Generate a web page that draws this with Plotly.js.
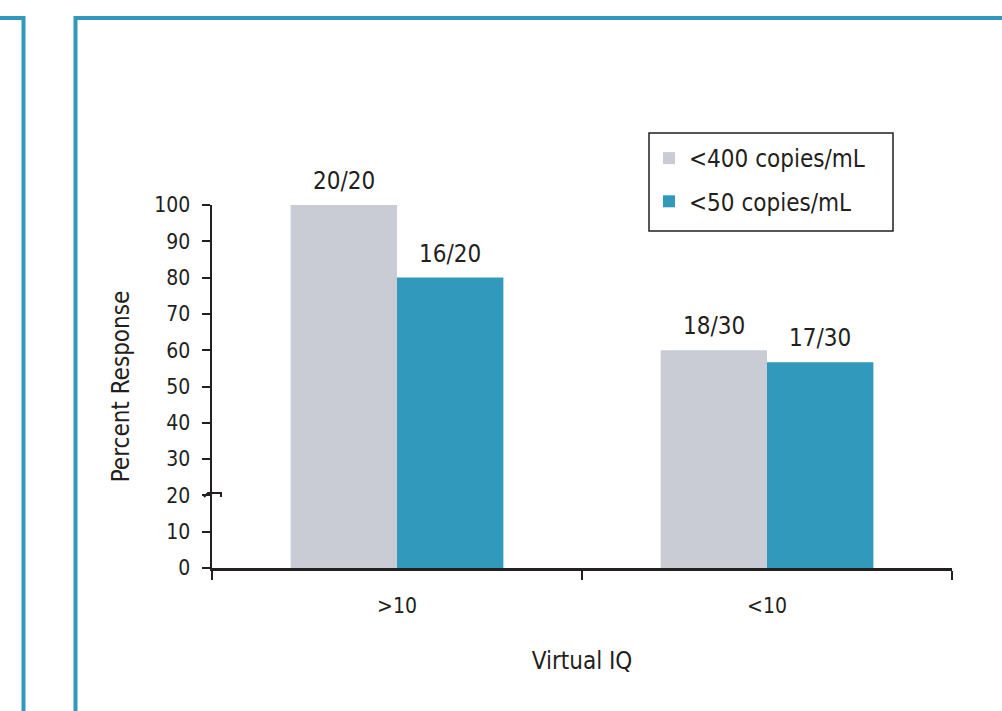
<!DOCTYPE html>
<html>
<head>
<meta charset="utf-8">
<script src="https://cdn.plot.ly/plotly-3.0.1.min.js"></script>
<style>html,body{margin:0;padding:0;background:#fff;}#chart{width:1002px;height:711px;}</style>
</head>
<body>
<div id="chart"></div>
<script>
// ---- data ----
const categories = ['>10', '<10'];
const seriesNames = ['<400 copies/mL', '<50 copies/mL'];
const below400 = [100, 60];
const below50 = [80, 56.7];
const below400Labels = ['20/20', '18/30'];
const below50Labels = ['16/20', '17/30'];
const yTickVals = [0, 10, 20, 30, 40, 50, 60, 70, 80, 90, 100];

// ---- layout constants (pixels) ----
const W = 1002, H = 711;
const L = 212, R = 50, T = 205, B = 143;
const PW = W - L - R, PH = H - T - B;
const px = v => (v - L) / PW;          // pixel x -> paper x
const py = v => (H - B - v) / PH;      // pixel y -> paper y

const FONT = '"DejaVu Sans Condensed", "Liberation Sans", sans-serif';
const INK = '#231f20';
const GRAY = '#c9ccd4';
const TEAL = '#3199bc';
const BARGAP = 0.425;

const traces = [
  {
    type: 'bar', name: seriesNames[0], x: categories, y: below400, legendgroup: 'a',
    marker: {color: GRAY}, hoverinfo: 'skip'
  },
  {
    type: 'bar', name: seriesNames[1], x: categories, y: below50, legendgroup: 'b',
    marker: {color: TEAL}, hoverinfo: 'skip'
  }
];

// value labels above each bar
const half = (1 - BARGAP) / 4;   // offset of each bar centre from category centre
const annotations = [];
categories.forEach((c, i) => {
  annotations.push({x: i - half, y: below400[i], text: below400Labels[i]});
  annotations.push({x: i + half, y: below50[i], text: below50Labels[i]});
});
annotations.forEach(a => Object.assign(a, {
  xref: 'x', yref: 'y', showarrow: false, yanchor: 'bottom', yshift: 8,
  font: {family: FONT, size: 24, color: INK}
}));

function path(points) {
  return points.map((p, i) => (i ? 'L' : 'M') + px(p[0]).toFixed(5) + ',' + py(p[1]).toFixed(5)).join(' ');
}

const shapes = [
  // teal frame lines
  {type: 'path', xref: 'paper', yref: 'paper', path: path([[0, 18], [23.5, 18], [23.5, 720]]),
   line: {color: TEAL, width: 4}},
  {type: 'path', xref: 'paper', yref: 'paper', path: path([[75.5, 720], [75.5, 18], [1010, 18]]),
   line: {color: TEAL, width: 4}},
  // axis break marker near 20
  {type: 'path', xref: 'paper', yref: 'paper', path: path([[204, 497], [208, 493], [221, 493], [221, 497]]),
   line: {color: INK, width: 2}},
  // legend frame
  {type: 'rect', xref: 'paper', yref: 'paper', x0: px(649), x1: px(893), y0: py(133), y1: py(231),
   line: {color: INK, width: 1.5}, fillcolor: 'rgba(0,0,0,0)', layer: 'above'}
];

const layout = {
  width: W, height: H,
  margin: {l: L, r: R, t: T, b: B, pad: 0},
  paper_bgcolor: '#fff', plot_bgcolor: '#fff',
  font: {family: FONT, color: INK},
  barmode: 'group', bargap: BARGAP, bargroupgap: 0,
  showlegend: true,
  legend: {
    x: px(649), y: py(136), xanchor: 'left', yanchor: 'top',
    borderwidth: 0, bgcolor: 'rgba(0,0,0,0)',
    font: {family: FONT, size: 24, color: INK},
    traceorder: 'grouped', tracegroupgap: 9, itemclick: false
  },
  xaxis: {
    type: 'category', tickson: 'boundaries', ticks: 'outside', ticklen: 9, tickwidth: 2,
    tickcolor: INK, showline: true, linecolor: INK, linewidth: 2.5,
    showgrid: false, zeroline: false, fixedrange: true,
    tickfont: {family: FONT, size: 21, color: INK}, ticklabelstandoff: 17,
    title: {text: 'Virtual IQ', font: {family: FONT, size: 24, color: INK}, standoff: 36}
  },
  yaxis: {
    range: [0, 100], tickvals: yTickVals, ticks: 'outside', ticklen: 8, tickwidth: 2,
    tickcolor: INK, showline: true, linecolor: INK, linewidth: 2.5,
    showgrid: false, zeroline: false, fixedrange: true,
    tickfont: {family: FONT, size: 21, color: INK}, ticklabelstandoff: 7,
    title: {text: 'Percent Response', font: {family: FONT, size: 24, color: INK}, standoff: 18}
  },
  annotations: annotations,
  shapes: shapes
};

Plotly.newPlot('chart', traces, layout, {displayModeBar: false, staticPlot: true});
</script>
</body>
</html>
